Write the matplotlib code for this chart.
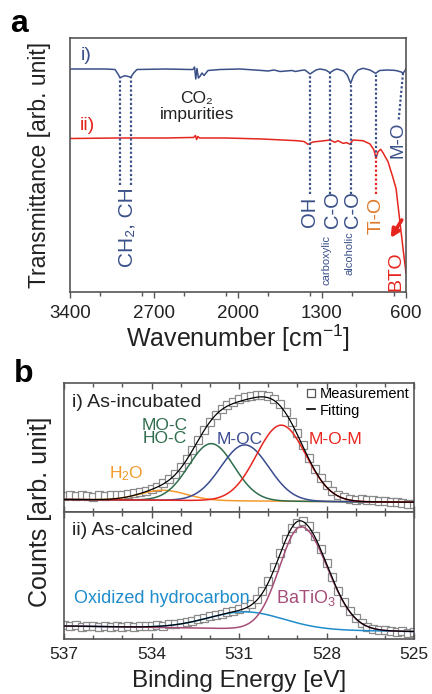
import numpy as np
import matplotlib
matplotlib.use("Agg")
import matplotlib.pyplot as plt
from matplotlib.ticker import MultipleLocator
from matplotlib.lines import Line2D

plt.rcParams['font.family'] = ['Liberation Sans', 'DejaVu Sans']
plt.rcParams['mathtext.fontset'] = 'custom'
plt.rcParams['mathtext.rm'] = 'Liberation Sans'
plt.rcParams['mathtext.it'] = 'Liberation Sans:italic'
plt.rcParams['mathtext.bf'] = 'Liberation Sans:bold'

# ---------------- (a) FTIR ----------------
wn_i = [3400, 3100, 3025, 3000, 2983, 2960, 2942, 2915, 2894, 2870, 2842, 2600,
        2400, 2375, 2362, 2352, 2342, 2330, 2315, 2300, 2283, 2250, 2150, 1983,
        1800, 1750, 1700, 1650, 1600, 1550, 1520, 1480, 1442, 1400, 1350, 1317,
        1270, 1233, 1200, 1175, 1120, 1090, 1061, 1035, 1000, 958, 900, 853, 820,
        761, 700, 678, 640, 625, 610, 600]
tr_i = [223, 223, 222.5, 218, 214.3, 215.5, 216.3, 215.5, 214.7, 219, 222.5, 223,
        222.5, 222.5, 225, 213, 223.5, 214, 216, 219, 216.5, 221.5, 222.5, 223,
        221.5, 221, 222, 220.5, 221, 221.5, 220.5, 221.5, 222, 218, 222, 223,
        222, 219.3, 222, 223, 221, 217, 208.7, 217, 222, 223.7, 222, 218.7, 221.5,
        222, 221.7, 221.3, 220, 219, 221, 223.5]

wn_ii = [3400, 3000, 2600, 2400, 2370, 2355, 2345, 2335, 2320, 2100, 1800, 1511,
         1450, 1417, 1375, 1300, 1233, 1192, 1167, 1125, 1094, 1067, 1042, 958,
         900, 867, 850, 833, 811, 792, 750, 711, 683, 650, 617, 600]
tr_ii = [153.5, 154, 154, 154.5, 154.5, 156.5, 152.5, 155.5, 154, 154, 153, 151.3,
         150.5, 147.7, 150, 151, 152, 149.7, 151.3, 148.7, 149.3, 147.7, 152, 151.3,
         148, 142, 133.7, 140.3, 142.7, 139.3, 130.3, 115.3, 103.5, 69.5, 35.5, 19]

band_wn = [2983, 2894, 1400, 1233, 1061]
tio_wn = 853

# ---------------- (b) XPS O 1s ----------------
be_meas = np.linspace(537, 525, 61)
cnt_i = [16, 17.5, 16, 17, 16.5, 15.5, 17, 16.5, 17.5, 17, 17.5, 18.5, 19, 20,
         21.5, 23, 25.5, 29, 33, 38.5, 45, 53, 62.5, 72.5, 82, 90.5, 97.5, 103,
         107.5, 110.5, 113, 115.5, 116.5, 117.5, 117, 116, 113, 108, 100.5, 90.5,
         79, 67, 54.5, 43.5, 34, 27, 21, 17.5, 15, 13.5, 12.5, 13, 12, 12.5, 11.5,
         11, 10.5, 10, 9, 8.5, 8]
cnt_ii = [14, 13, 14, 12.5, 13.5, 13, 12, 13.5, 12.5, 13, 12, 13.5, 12.5, 13,
          13.5, 13, 14, 13.5, 15, 15.5, 16.5, 17, 18.5, 20, 21.5, 23, 24, 25.5,
          27, 28.5, 30, 32, 35.5, 40.5, 48, 58.5, 72, 86.5, 100, 111, 116.5, 118,
          113, 103, 90, 76, 62, 48.5, 37, 28, 21, 16, 12.5, 10, 9, 9.5, 8.5, 7,
          8, 6.5, 7]

# fitted components: centre [eV], height, sigma
peak_center_i = [533.6, 531.95, 530.8, 529.55]
peak_height_i = [10, 57, 56, 76]
peak_sigma_i = [0.8, 0.78, 0.82, 0.85]
peak_color_i = ['#f59a2c', '#2f6d4d', '#3a4c91', '#e8261f']
base_i = [12.5, 9.8]

peak_center_ii = [530.77, 528.87]
peak_height_ii = [17, 103]
peak_sigma_hi_ii = [1.3, 0.74]
peak_sigma_lo_ii = [1.3, 0.9]
peak_color_ii = ['#1f8ccc', '#a54d78']
base_ii = [13, 7.5]

navy = '#3a5089'
red = '#e5261f'
spine_c = '#555555'

fig = plt.figure(figsize=(4.32, 6.94), dpi=100)
axA = fig.add_axes([70/432, 1-292/694, 336/432, 254/694])
axB1 = fig.add_axes([64/432, 1-512/694, 350/432, 129/694])
axB2 = fig.add_axes([64/432, 1-639/694, 350/432, 127/694])

# ---- panel a
axA.plot(wn_i, tr_i, color=navy, lw=1.1)
axA.plot(wn_ii, tr_ii, color=red, lw=1.1)
dots = (0, (1, 1))
for k, w in enumerate(band_wn):
    top = np.interp(w, wn_i[::-1], tr_i[::-1])
    low = 107 if k < 2 else 98
    axA.plot([w, w], [low, top], color=navy, lw=1.6, ls=dots)
top = np.interp(tio_wn, wn_i[::-1], tr_i[::-1])
mid = np.interp(tio_wn, wn_ii[::-1], tr_ii[::-1])
axA.plot([tio_wn, tio_wn], [mid, top], color=navy, lw=1.6, ls=dots)
axA.plot([tio_wn, tio_wn], [98, mid], color=red, lw=1.6, ls=dots)
axA.plot([625, 662], [np.interp(625, wn_i[::-1], tr_i[::-1]), 171],
         color=navy, lw=1.6, ls=dots)

axA.text(3267, 237, 'i)', color=navy, fontsize=14, ha='center', va='center')
axA.text(3254, 166.5, 'ii)', color=red, fontsize=14, ha='center', va='center')
axA.text(2342, 193, 'CO₂', color='#222222', fontsize=12.5, ha='center', va='center')
axA.text(2342, 178, 'impurities', color='#222222', fontsize=12.5, ha='center', va='center')
axA.text(2925, 65, 'CH₂, CH', color=navy, fontsize=15, rotation=90, ha='center', va='center')
axA.text(1400, 80, 'OH', color=navy, fontsize=14.5, rotation=90, ha='center', va='center')
axA.text(1215, 82, 'C-O', color=navy, fontsize=14.5, rotation=90, ha='center', va='center')
axA.text(1262, 32, 'carboxylic', color=navy, fontsize=8, rotation=90, ha='center', va='center')
axA.text(1046, 82, 'C-O', color=navy, fontsize=14.5, rotation=90, ha='center', va='center')
axA.text(1067, 38.5, 'alcoholic', color=navy, fontsize=8, rotation=90, ha='center', va='center')
axA.text(850, 77, 'Ti-O', color='#e07a2c', fontsize=14, rotation=90, ha='center', va='center')
axA.text(667, 152, 'M-O', color=navy, fontsize=13.5, rotation=90, ha='center', va='center')
axA.text(683, 21, 'BTO', color=red, fontsize=14, rotation=90, ha='center', va='center')
axA.annotate('', xy=(728, 54), xytext=(635, 72),
             arrowprops=dict(arrowstyle='-|>', color=red, lw=2.6, mutation_scale=12,
                             shrinkA=0, shrinkB=0))

axA.set_xlim(3400, 600)
axA.set_ylim(0, 254)
axA.set_xticks([3400, 2700, 2000, 1300, 600])
axA.xaxis.set_minor_locator(MultipleLocator(350))
axA.set_yticks([])
axA.tick_params(axis='x', which='major', direction='out', length=4, width=1,
                labelsize=13.5, pad=5, colors=spine_c, labelcolor='#222222')
axA.tick_params(axis='x', which='minor', direction='out', length=3, width=1, colors=spine_c)
for s in axA.spines.values():
    s.set_color(spine_c)
    s.set_linewidth(1.2)

# ---- panel b
E = np.linspace(537, 525, 601)


def gauss(c, h, s_hi, s_lo):
    s = np.where(E > c, s_hi, s_lo)
    return h * np.exp(-(E - c) ** 2 / (2 * s ** 2))


bg_i = np.interp(E, [525, 537], base_i[::-1])
bg_ii = np.interp(E, [525, 537], base_ii[::-1])

axB1.plot(be_meas, cnt_i, ls='none', marker='s', ms=6, mfc='white', mec='#8a8a8a',
          mew=0.9, zorder=1)
fit = bg_i.copy()
for c, h, s, col in zip(peak_center_i, peak_height_i, peak_sigma_i, peak_color_i):
    g = gauss(c, h, s, s)
    fit += g
    axB1.plot(E, bg_i + g, color=col, lw=1.1, zorder=2)
axB1.plot(E, fit, color='black', lw=0.9, zorder=3)

axB2.plot(be_meas, cnt_ii, ls='none', marker='s', ms=6, mfc='white', mec='#8a8a8a',
          mew=0.9, zorder=1)
fit = bg_ii.copy()
for c, h, sh, sl, col in zip(peak_center_ii, peak_height_ii, peak_sigma_hi_ii,
                             peak_sigma_lo_ii, peak_color_ii):
    g = gauss(c, h, sh, sl)
    fit += g
    axB2.plot(E, bg_ii + g, color=col, lw=1.1, zorder=2)
axB2.plot(E, fit, color='black', lw=0.9, zorder=3)

axB1.text(536.73, 109, 'i) As-incubated', fontsize=14, color='#222222', va='center')
axB1.text(533.54, 80, 'MO-C\nHO-C', fontsize=12.5, color=peak_color_i[1], ha='center',
          va='center', linespacing=0.85)
axB1.text(530.97, 72, 'M-OC', fontsize=12.5, color=peak_color_i[2], ha='center', va='center')
axB1.text(527.68, 72, 'M-O-M', fontsize=12.5, color=peak_color_i[3], ha='center', va='center')
axB1.text(534.87, 38, 'H$_2$O', fontsize=12.5, color=peak_color_i[0], ha='center', va='center')

h_meas = Line2D([], [], ls='none', marker='s', ms=6, mfc='white', mec='#555555', mew=0.9)
h_fit = Line2D([], [], color='black', lw=1.2)
axB1.legend([h_meas, h_fit], ['Measurement', 'Fitting'], loc='upper right', frameon=False,
            fontsize=10.5, handlelength=0.6, handletextpad=0.3, borderaxespad=0.2,
            labelspacing=0.15, borderpad=0.1)

axB2.text(536.73, 108.5, 'ii) As-calcined', fontsize=14, color='#222222', va='center')
axB2.text(536.66, 40.5, 'Oxidized hydrocarbon', fontsize=13, color=peak_color_ii[0], va='center')
axB2.text(529.73, 41, 'BaTiO$_3$', fontsize=13, color=peak_color_ii[1], va='center')

for ax, top in ((axB1, 129), (axB2, 127)):
    ax.set_xlim(537, 525)
    ax.set_ylim(0, top)
    ax.set_yticks([])
    ax.set_xticks([537, 534, 531, 528, 525])
    ax.xaxis.set_minor_locator(MultipleLocator(1))
    ax.tick_params(axis='x', which='both', direction='in', top=True, width=1,
                   colors=spine_c, labelcolor='#222222', labelsize=12.5, pad=6)
    ax.tick_params(axis='x', which='major', length=4)
    ax.tick_params(axis='x', which='minor', length=3)
    for s in ax.spines.values():
        s.set_color(spine_c)
        s.set_linewidth(1.2)
axB1.tick_params(axis='x', labelbottom=False)

# axis titles and panel letters
fig.text(40/432, 1-165/694, 'Transmittance [arb. unit]', rotation=90, fontsize=16.5,
         ha='center', va='center', color='#222222')
fig.text(238/432, 1-347/694, 'Wavenumber [cm$^{-1}$]', fontsize=18, ha='center',
         va='baseline', color='#222222')
fig.text(40/432, 1-512/694, 'Counts [arb. unit]', rotation=90, fontsize=18,
         ha='center', va='center', color='#222222')
fig.text(239/432, 1-687/694, 'Binding Energy [eV]', fontsize=17.5, ha='center',
         va='baseline', color='#222222')
fig.text(10/432, 1-32/694, 'a', fontsize=23, fontweight='bold', va='baseline')
fig.text(14/432, 1-382/694, 'b', fontsize=23, fontweight='bold', va='baseline')

fig.savefig('out.png', dpi=100)
